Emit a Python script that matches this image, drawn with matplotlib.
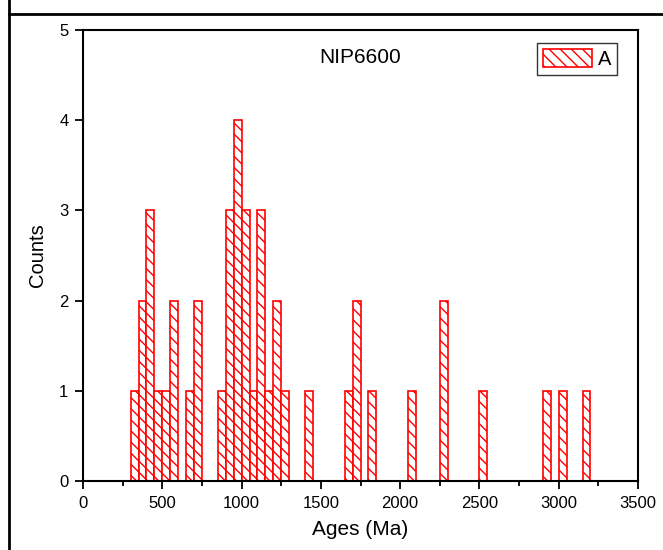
import matplotlib
matplotlib.use("Agg")
import matplotlib.pyplot as plt
from matplotlib.lines import Line2D
from matplotlib.ticker import MultipleLocator

plt.rcParams['font.family'] = ['Liberation Sans', 'DejaVu Sans']
plt.rcParams['hatch.color'] = 'red'
plt.rcParams['hatch.linewidth'] = 1.0

# Histogram bins (left edges, Ma) and counts
bin_left = [300, 350, 400, 450, 500, 550, 650, 700,
            850, 900, 950, 1000, 1050, 1100, 1150, 1200, 1250,
            1400, 1650, 1700, 1800, 2050, 2250, 2500, 2900, 3000, 3150]
counts = [1, 2, 3, 1, 1, 2, 1, 2,
          1, 3, 4, 3, 1, 3, 1, 2, 1,
          1, 1, 2, 1, 1, 2, 1, 1, 1, 1]
bin_width = 50
sample_name = "NIP6600"
series_label = "A"
x_ticks = [0, 500, 1000, 1500, 2000, 2500, 3000, 3500]
y_ticks = [0, 1, 2, 3, 4, 5]

fig = plt.figure(figsize=(6.63, 5.5), dpi=100)
ax = fig.add_axes([83/663, 1-481/550, (638-83)/663, (481-30)/550])

ax.bar(bin_left, counts, width=bin_width, align='edge',
       facecolor='white', edgecolor='red', hatch='\\\\\\', linewidth=1.2,
       label=series_label)

ax.set_xlim(0, 3500)
ax.set_ylim(0, 5)
ax.set_xticks(x_ticks)
ax.set_yticks(y_ticks)
ax.xaxis.set_minor_locator(MultipleLocator(250))
ax.tick_params(axis='both', which='major', direction='out', length=5.5, width=1.3,
               labelsize=12, top=False, right=False, pad=5)
ax.tick_params(axis='x', which='minor', direction='out', length=3.5, width=1.3)
for s in ax.spines.values():
    s.set_linewidth(1.5)

ax.set_xlabel("Ages (Ma)", fontsize=15, labelpad=7)
ax.set_ylabel("Counts", fontsize=14.5, labelpad=9)
ax.text(0.5, 0.94, sample_name, transform=ax.transAxes, ha='center', va='center',
        fontsize=15)

leg = ax.legend(loc='upper right', bbox_to_anchor=((617-83)/555, (481-43)/451),
                borderaxespad=0, fontsize=14.5,
                frameon=True, fancybox=False, edgecolor='black',
                handlelength=2.4, handleheight=1.0, borderpad=0.3,
                handletextpad=0.3)
leg.get_frame().set_linewidth(1.0)

# outer table-like border lines
fig.add_artist(Line2D([9/663, 9/663], [0, 1], transform=fig.transFigure,
                      color='black', linewidth=2))
fig.add_artist(Line2D([9/663, 1], [1-14/550, 1-14/550], transform=fig.transFigure,
                      color='black', linewidth=2))

fig.savefig("out.png", dpi=100)
